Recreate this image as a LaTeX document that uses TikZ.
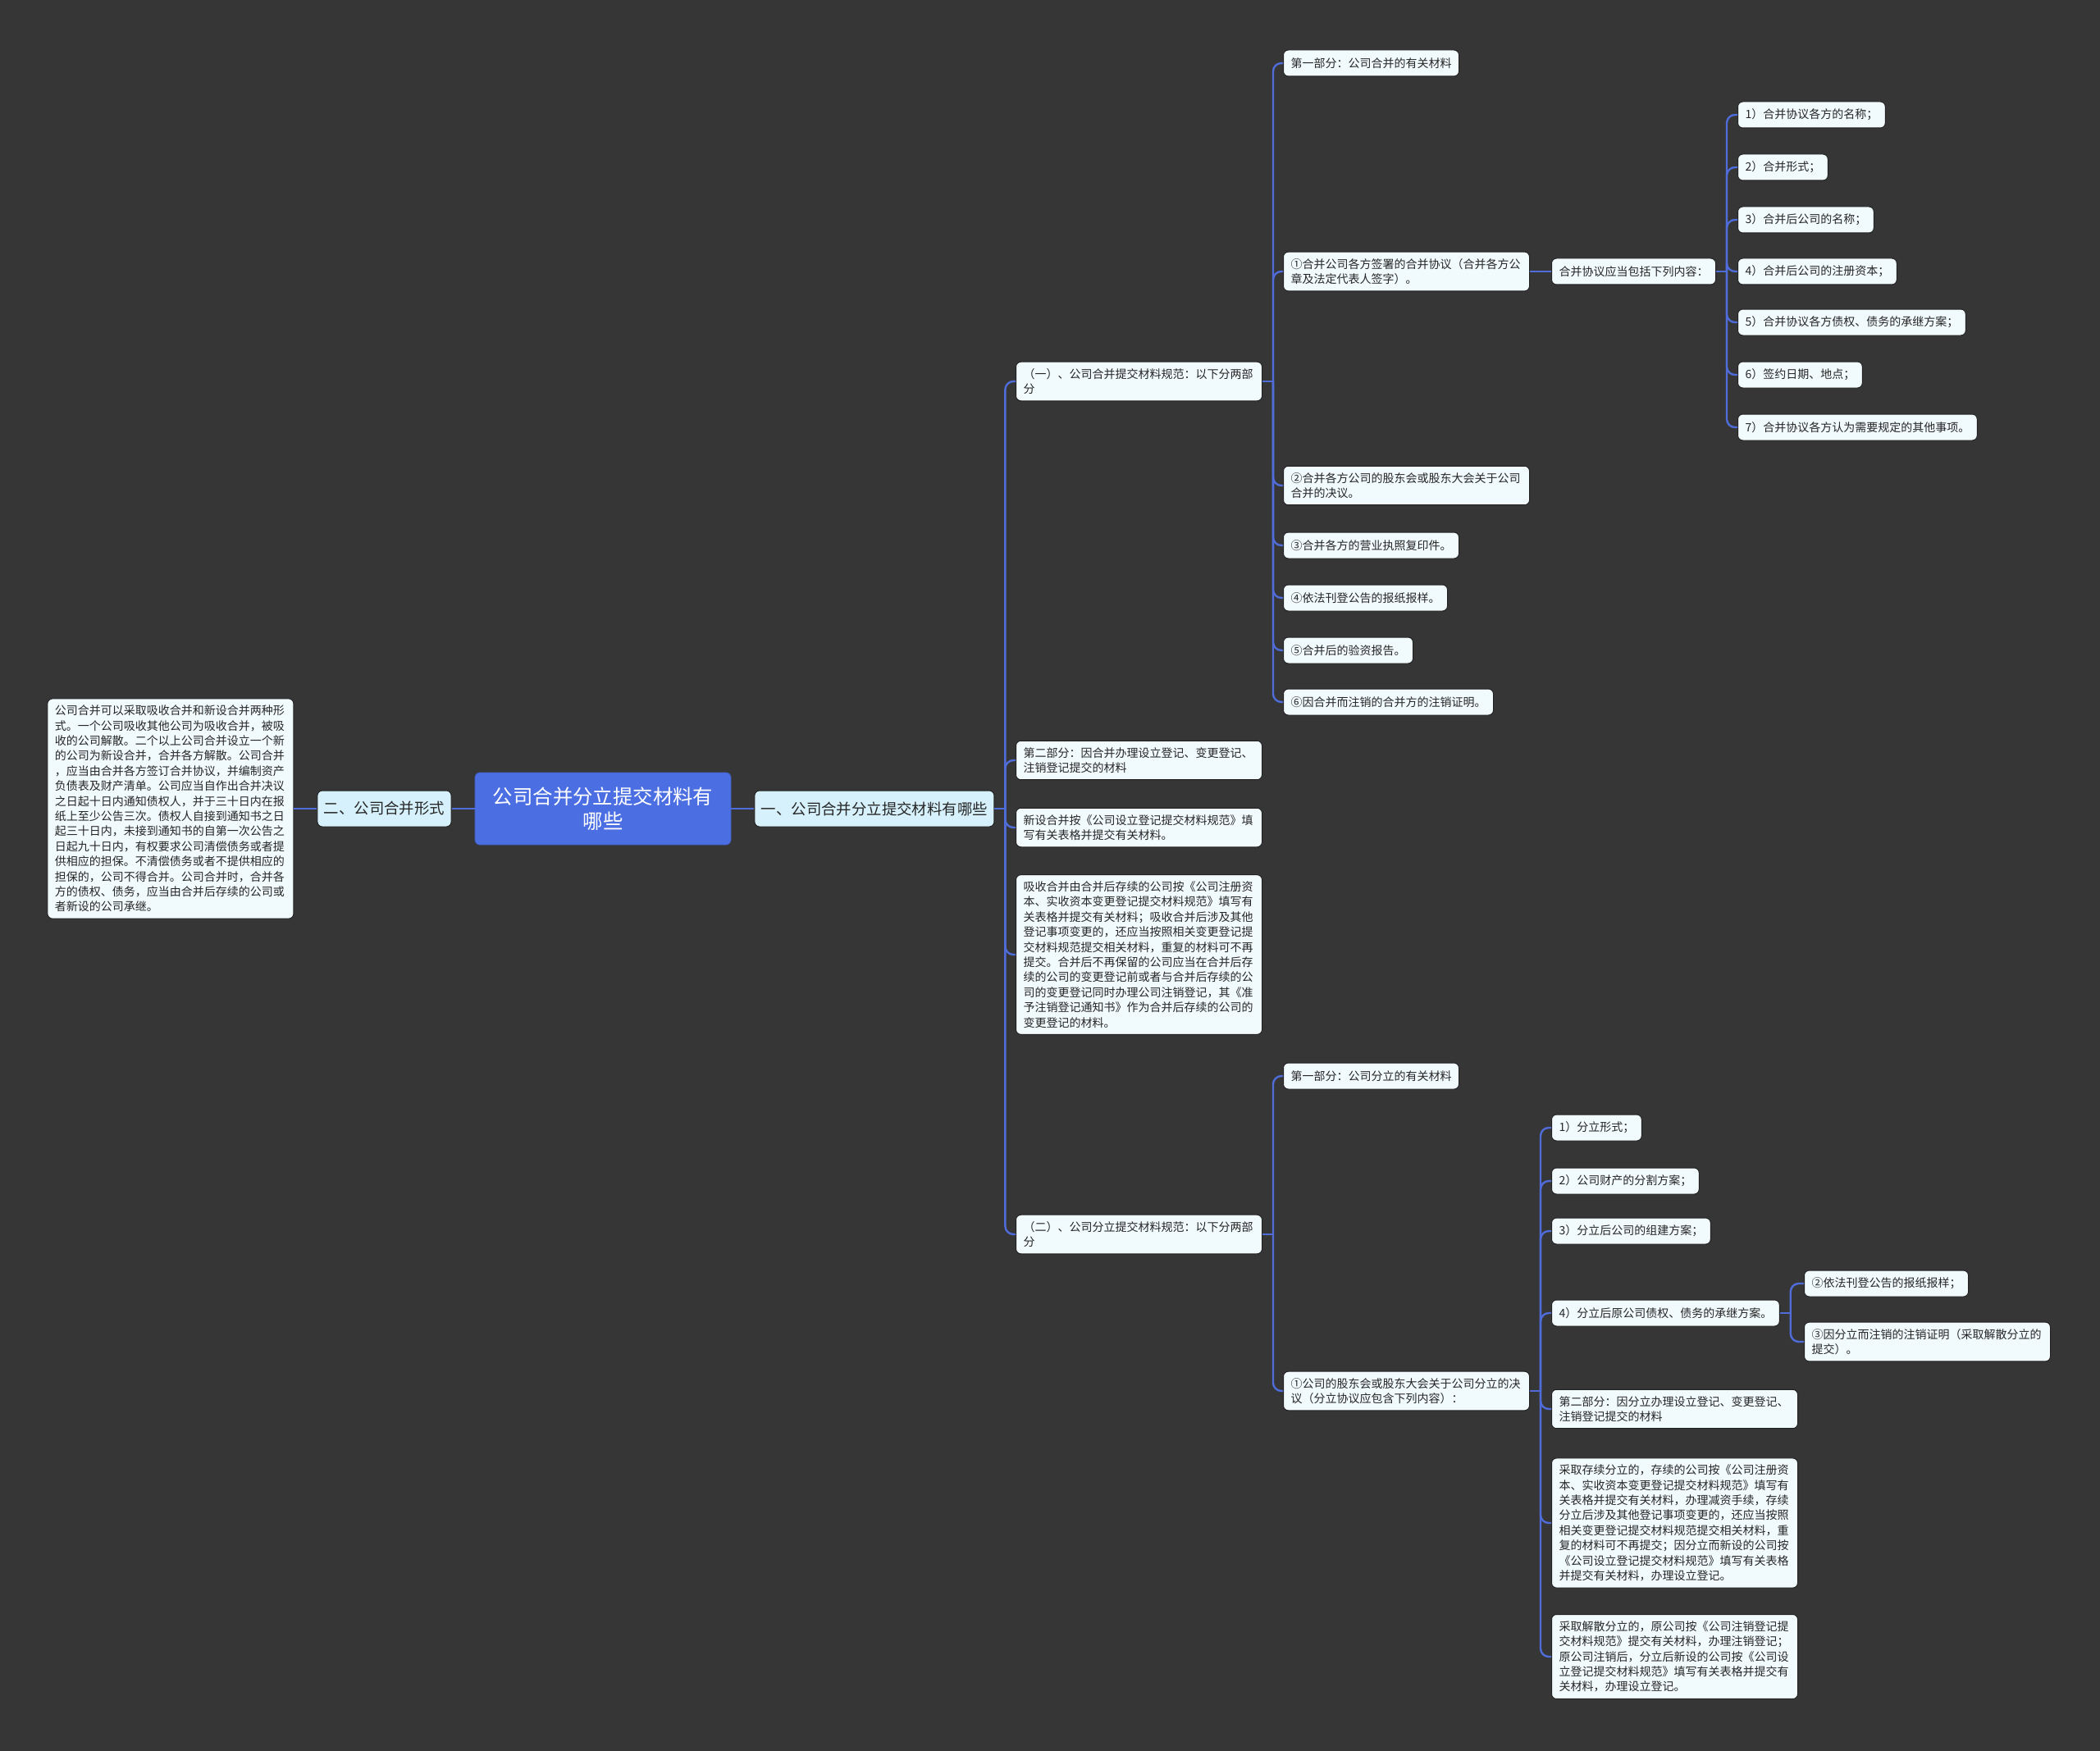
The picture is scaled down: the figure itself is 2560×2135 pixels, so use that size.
\documentclass[tikz,border=0pt]{standalone}
\usepackage{fontspec}
\setmainfont{Noto Sans CJK SC}
\usepackage{tikz}
\usetikzlibrary{positioning}
\definecolor{mapbg}{HTML}{363636}
\definecolor{mapblue}{HTML}{4B6FE2}
\definecolor{mapline}{HTML}{4F6CD9}
\definecolor{mapleaf}{HTML}{F1FAFD}
\definecolor{maptopic}{HTML}{D6F1FB}
\definecolor{mapedge}{HTML}{222222}

\begin{document}
\begin{tikzpicture}[x=0.5pt, y=-0.5pt, node distance=14pt,
  leaf/.style={rectangle, rounded corners=3pt, draw=mapedge, line width=0.5pt, fill=mapleaf,
               text=black!85, font=\fontsize{7}{9.2}\selectfont, inner xsep=4.5pt, inner ysep=4pt,
               minimum height=16pt, align=left, anchor=west},
  para/.style={leaf, text width=141pt},
  topic/.style={rectangle, rounded corners=3pt, draw=mapedge, line width=0.5pt, fill=maptopic,
                text=black!85, font=\fontsize{9.2}{11}\selectfont, inner xsep=4pt, minimum height=22pt},
  rootbox/.style={rectangle, rounded corners=3pt, draw=mapblue!85!black, fill=mapblue, text=white,
                  font=\fontsize{12.2}{15}\selectfont, text width=136pt, align=center,
                  inner xsep=10pt, minimum height=44pt},
  link/.style={draw=mapline, line width=1.2pt, rounded corners=5pt}]
  \fill[mapbg] (0,0) rectangle (2560,2135);
  \useasboundingbox (0,0) rectangle (2560,2135);

  % centre and left side
  \node[rootbox] (root) at (735,986) {公司合并分立提交材料有\\哪些};
  \node[topic, left=of root] (form) {二、公司合并形式};
  \node[para, left=of form] (formtxt) {公司合并可以采取吸收合并和新设合并两种形\\式。一个公司吸收其他公司为吸收合并，被吸\\收的公司解散。二个以上公司合并设立一个新\\的公司为新设合并，合并各方解散。公司合并\\，应当由合并各方签订合并协议，并编制资产\\负债表及财产清单。公司应当自作出合并决议\\之日起十日内通知债权人，并于三十日内在报\\纸上至少公告三次。债权人自接到通知书之日\\起三十日内，未接到通知书的自第一次公告之\\日起九十日内，有权要求公司清偿债务或者提\\供相应的担保。不清偿债务或者不提供相应的\\担保的，公司不得合并。公司合并时，合并各\\方的债权、债务，应当由合并后存续的公司或\\者新设的公司承继。};
  \node[topic, right=of root] (what) {一、公司合并分立提交材料有哪些};

  % second level
  \node[para] (mergespec) at (1238,465) {（一）、公司合并提交材料规范：以下分两部\\分};
  \node[para] (mergepart2) at (1238,927) {第二部分：因合并办理设立登记、变更登记、\\注销登记提交的材料};
  \node[para] (newmerge) at (1238,1009) {新设合并按《公司设立登记提交材料规范》填\\写有关表格并提交有关材料。};
  \node[para] (absorb) at (1238,1164) {吸收合并由合并后存续的公司按《公司注册资\\本、实收资本变更登记提交材料规范》填写有\\关表格并提交有关材料；吸收合并后涉及其他\\登记事项变更的，还应当按照相关变更登记提\\交材料规范提交相关材料，重复的材料可不再\\提交。合并后不再保留的公司应当在合并后存\\续的公司的变更登记前或者与合并后存续的公\\司的变更登记同时办理公司注销登记，其《准\\予注销登记通知书》作为合并后存续的公司的\\变更登记的材料。};
  \node[para] (splitspec) at (1238,1505) {（二）、公司分立提交材料规范：以下分两部\\分};

  % merger materials
  \node[leaf] (mergepart1) at (1564,77) {第一部分：公司合并的有关材料};
  \node[para] (agree) at (1564,331) {①合并公司各方签署的合并协议（合并各方公\\章及法定代表人签字）。};
  \node[para] (resolve) at (1564,592) {②合并各方公司的股东会或股东大会关于公司\\合并的决议。};
  \node[leaf] (licence) at (1564,665) {③合并各方的营业执照复印件。};
  \node[leaf] (paper) at (1564,729) {④依法刊登公告的报纸报样。};
  \node[leaf] (audit) at (1564,793) {⑤合并后的验资报告。};
  \node[leaf] (cancel) at (1564,856) {⑥因合并而注销的合并方的注销证明。};
  \node[leaf] (content) at (1891,331) {合并协议应当包括下列内容：};
  \node[leaf] (c1) at (2118,140) {1）合并协议各方的名称；};
  \node[leaf] (c2) at (2118,204) {2）合并形式；};
  \node[leaf] (c3) at (2118,268) {3）合并后公司的名称；};
  \node[leaf] (c4) at (2118,331) {4）合并后公司的注册资本；};
  \node[leaf] (c5) at (2118,393) {5）合并协议各方债权、债务的承继方案；};
  \node[leaf] (c6) at (2118,457) {6）签约日期、地点；};
  \node[leaf] (c7) at (2118,521) {7）合并协议各方认为需要规定的其他事项。};

  % split materials
  \node[leaf] (splitpart1) at (1564,1312) {第一部分：公司分立的有关材料};
  \node[para] (splitres) at (1564,1696) {①公司的股东会或股东大会关于公司分立的决\\议（分立协议应包含下列内容）：};
  \node[leaf] (d1) at (1891,1375) {1）分立形式；};
  \node[leaf] (d2) at (1891,1440) {2）公司财产的分割方案；};
  \node[leaf] (d3) at (1891,1501) {3）分立后公司的组建方案；};
  \node[leaf] (d4) at (1891,1601) {4）分立后原公司债权、债务的承继方案。};
  \node[leaf] (e2) at (2199,1565) {②依法刊登公告的报纸报样；};
  \node[para] (e3) at (2199,1636) {③因分立而注销的注销证明（采取解散分立的\\提交）。};
  \node[para] (splitpart2) at (1891,1718) {第二部分：因分立办理设立登记、变更登记、\\注销登记提交的材料};
  \node[para] (keep) at (1891,1857) {采取存续分立的，存续的公司按《公司注册资\\本、实收资本变更登记提交材料规范》填写有\\关表格并提交有关材料，办理减资手续，存续\\分立后涉及其他登记事项变更的，还应当按照\\相关变更登记提交材料规范提交相关材料，重\\复的材料可不再提交；因分立而新设的公司按\\《公司设立登记提交材料规范》填写有关表格\\并提交有关材料，办理设立登记。};
  \node[para] (dissolve) at (1891,2020) {采取解散分立的，原公司按《公司注销登记提\\交材料规范》提交有关材料，办理注销登记；\\原公司注销后，分立后新设的公司按《公司设\\立登记提交材料规范》填写有关表格并提交有\\关材料，办理设立登记。};

  % connectors
  \draw[link] (root.west) -- (form.east);
  \draw[link] (form.west) -- (formtxt.east);
  \draw[link] (root.east) -- (what.west);
  \path (what.east) ++(13,0) coordinate (t0);
  \path (mergespec.east) ++(13,0) coordinate (t1);
  \path (content.east) ++(13,0) coordinate (t2);
  \path (splitspec.east) ++(13,0) coordinate (t3);
  \path (splitres.east) ++(13,0) coordinate (t4);
  \path (d4.east) ++(13,0) coordinate (t5);
  \draw[link] (what.east) -- (t0);
  \draw[link] (t0) |- (mergespec.west);
  \draw[link] (t0) |- (mergepart2.west);
  \draw[link] (t0) |- (newmerge.west);
  \draw[link] (t0) |- (absorb.west);
  \draw[link] (t0) |- (splitspec.west);
  \draw[link] (mergespec.east) -- (t1);
  \draw[link] (t1) |- (mergepart1.west);
  \draw[link] (t1) |- (agree.west);
  \draw[link] (t1) |- (resolve.west);
  \draw[link] (t1) |- (licence.west);
  \draw[link] (t1) |- (paper.west);
  \draw[link] (t1) |- (audit.west);
  \draw[link] (t1) |- (cancel.west);
  \draw[link] (agree.east) -- (content.west);
  \draw[link] (content.east) -- (t2);
  \draw[link] (t2) |- (c1.west);
  \draw[link] (t2) |- (c2.west);
  \draw[link] (t2) |- (c3.west);
  \draw[link] (t2) |- (c4.west);
  \draw[link] (t2) |- (c5.west);
  \draw[link] (t2) |- (c6.west);
  \draw[link] (t2) |- (c7.west);
  \draw[link] (splitspec.east) -- (t3);
  \draw[link] (t3) |- (splitpart1.west);
  \draw[link] (t3) |- (splitres.west);
  \draw[link] (splitres.east) -- (t4);
  \draw[link] (t4) |- (d1.west);
  \draw[link] (t4) |- (d2.west);
  \draw[link] (t4) |- (d3.west);
  \draw[link] (t4) |- (d4.west);
  \draw[link] (t4) |- (splitpart2.west);
  \draw[link] (t4) |- (keep.west);
  \draw[link] (t4) |- (dissolve.west);
  \draw[link] (d4.east) -- (t5);
  \draw[link] (t5) |- (e2.west);
  \draw[link] (t5) |- (e3.west);
\end{tikzpicture}
\end{document}
